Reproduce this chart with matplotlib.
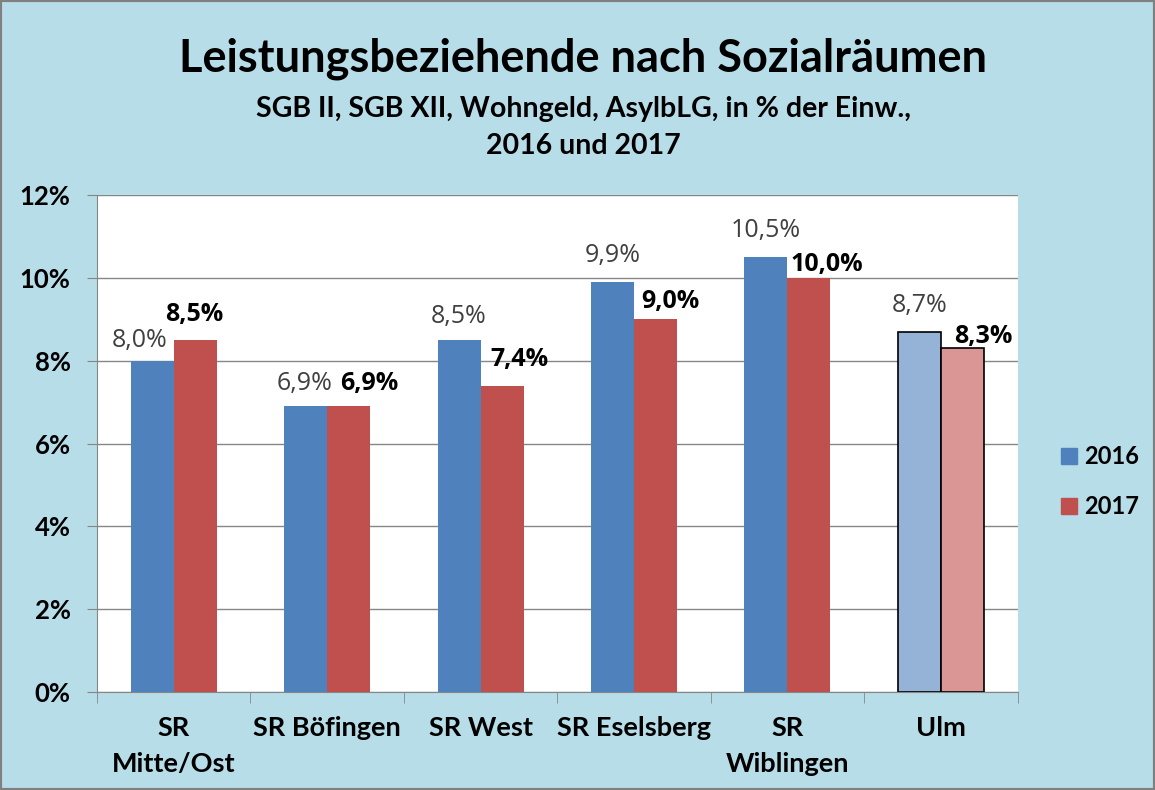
import matplotlib.pyplot as plt
import numpy as np
from matplotlib.patches import Rectangle
from matplotlib.lines import Line2D

# data
categories = ['SR\nMitte/Ost', 'SR Böfingen', 'SR West', 'SR Eselsberg', 'SR\nWiblingen', 'Ulm']
vals_2016 = [8.0, 6.9, 8.5, 9.9, 10.5, 8.7]
vals_2017 = [8.5, 6.9, 7.4, 9.0, 10.0, 8.3]
labels_2016 = ['8,0%', '6,9%', '8,5%', '9,9%', '10,5%', '8,7%']
labels_2017 = ['8,5%', '6,9%', '7,4%', '9,0%', '10,0%', '8,3%']

# label offsets in pixels (as placed in the original chart)
off16 = [(-13, 14), (-1, 16), (0, 17), (0, 20), (0, 20), (0, 20)]
off17 = [(-1, 19), (21, 16), (17, 20), (15, 11), (18, 7), (21, 5)]

plt.rcParams['font.family'] = ['Lato', 'DejaVu Sans']

bg = '#B7DDE8'
blue = '#4F81BD'
red = '#C0504D'
blue_l = '#95B3D7'
red_l = '#DA9694'

fig = plt.figure(figsize=(11.55, 7.9), dpi=100, facecolor=bg)
fig.patches.append(Rectangle((0, 0), 1, 1, transform=fig.transFigure,
                             fill=False, edgecolor='#808080', linewidth=3))

ax = fig.add_axes([0.084, 0.124, 0.797, 0.629])
ax.set_facecolor('white')

x = np.arange(len(categories))
w = 0.28
c16 = [blue] * 5 + [blue_l]
c17 = [red] * 5 + [red_l]
e16 = ['none'] * 5 + ['black']
ax.bar(x - w / 2, vals_2016, w, color=c16, edgecolor=e16, linewidth=1.2, zorder=3)
ax.bar(x + w / 2, vals_2017, w, color=c17, edgecolor=e16, linewidth=1.2, zorder=3)

lab_font = ['Open Sans', 'DejaVu Sans']
for i in range(len(categories)):
    ax.annotate(labels_2016[i], (x[i] - w / 2, vals_2016[i]), xytext=off16[i],
                textcoords='offset pixels', ha='center', va='baseline',
                fontsize=18, color='#404040', family=lab_font, zorder=4)
    ax.annotate(labels_2017[i], (x[i] + w / 2, vals_2017[i]), xytext=off17[i],
                textcoords='offset pixels', ha='center', va='baseline',
                fontsize=18, fontweight='bold', color='black', family=lab_font, zorder=4)

ax.set_xlim(-0.5, len(categories) - 0.5)
ax.set_ylim(0, 12)
ax.set_yticks(np.arange(0, 13, 2))
ax.set_yticklabels([str(v) + '%' for v in range(0, 13, 2)], fontsize=18.5, fontweight='bold')
ax.grid(axis='y', color='#868686', linewidth=1, zorder=0)
ax.set_xticks(x)
ax.set_xticklabels(categories, fontsize=19.5, fontweight='bold', linespacing=1.6)
ax.tick_params(axis='x', length=0, pad=17)
ax.set_xticks(np.arange(-0.5, len(categories), 1), minor=True)
ax.tick_params(axis='x', which='minor', length=8, color='#868686')
ax.tick_params(axis='y', length=7, color='#868686', pad=12)
for s in ['top', 'right']:
    ax.spines[s].set_visible(False)
ax.spines['left'].set_color('#868686')
ax.spines['bottom'].set_color('#868686')

handles = [Line2D([], [], marker='s', linestyle='none', markersize=11.5, color=blue),
           Line2D([], [], marker='s', linestyle='none', markersize=11.5, color=red)]
fig.legend(handles, ['2016', '2017'], loc='center', bbox_to_anchor=(0.951, 0.39),
           frameon=False, prop={'size': 17, 'weight': 'bold'}, labelspacing=1.15,
           handletextpad=0.2, handlelength=0.9)

fig.text(0.505, 0.925, 'Leistungsbeziehende nach Sozialräumen', ha='center', va='center',
         fontsize=32.5, fontweight='bold')
fig.text(0.505, 0.862, 'SGB II, SGB XII, Wohngeld, AsylbLG, in % der Einw.,', ha='center',
         va='center', fontsize=20.5, fontweight='bold')
fig.text(0.505, 0.815, '2016 und 2017', ha='center', va='center', fontsize=20.5, fontweight='bold')

fig.savefig('out.png', dpi=100, facecolor=bg)
